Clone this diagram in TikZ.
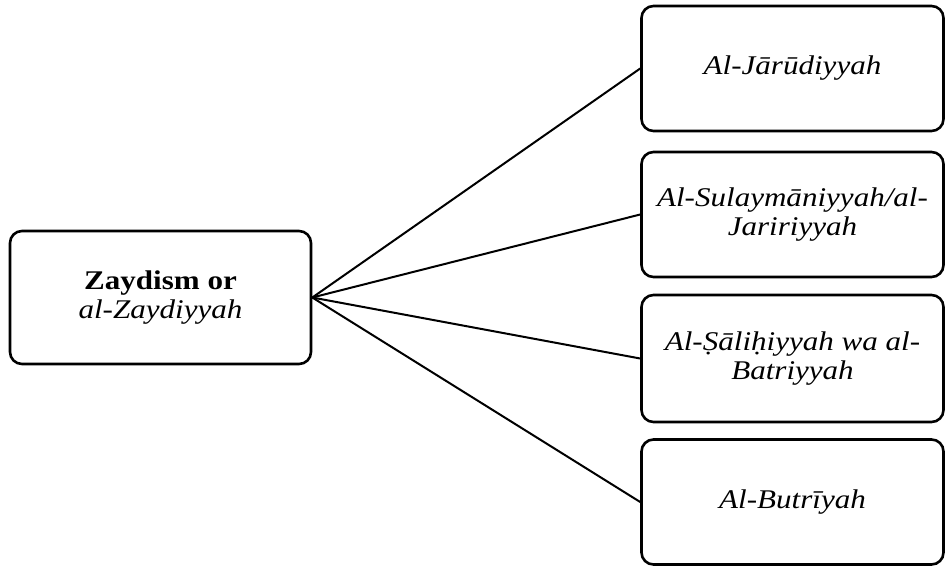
\documentclass[tikz,border=0pt]{standalone}
\usepackage{fontspec}
\setmainfont[FakeStretch=1.15]{Liberation Serif}
\begin{document}
\begin{tikzpicture}[x=0.5pt,y=-0.5pt,
        box/.style={draw, line width=1.3pt, rounded corners=6pt, minimum width=151pt, minimum height=62.5pt, align=center, font=\fontsize{13.5}{14.5}\selectfont},
        link/.style={line width=1pt}]
        \useasboundingbox (0,0) rectangle (945,567);
        \node[box, minimum width=150.5pt, minimum height=66.5pt] (zaydi) at (160.5,297.5) {\textbf{Zaydism or}\\\textit{al-Zaydiyyah}};
        \node[box] (jarud) at (792.5,68.5) {\textit{Al-Jārūdiyyah}};
        \node[box] (sulay) at (792.5,214.5) {\textit{Al-Sulaymāniyyah/al-}\\\textit{Jaririyyah}};
        \node[box, minimum height=63.5pt] (salih) at (792.5,358.5) {\textit{Al-Ṣāliḥiyyah wa al-}\\\textit{Batriyyah}};
        \node[box] (butri) at (792.5,502) {\textit{Al-Butrīyah}};
        \draw[link] (zaydi.east) -- (jarud.west);
        \draw[link] (zaydi.east) -- (sulay.west);
        \draw[link] (zaydi.east) -- (salih.west);
        \draw[link] (zaydi.east) -- (butri.west);
    \end{tikzpicture}
\end{document}
